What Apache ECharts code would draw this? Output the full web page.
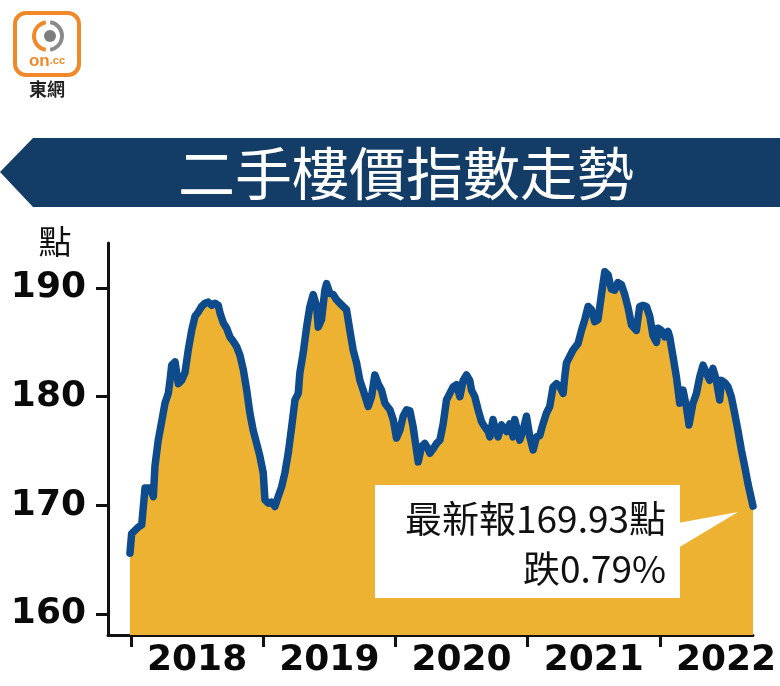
<!DOCTYPE html>
<html><head><meta charset="utf-8">
<script src="https://cdn.jsdelivr.net/npm/echarts@6/dist/echarts.min.js"></script>
<style>html,body{margin:0;padding:0;background:#fff}#c{width:780px;height:686px}</style>
</head><body><div id="c"></div>
<script>
// Decimal-year dates of each reading
const dates = [
  2017.992,2018.005,2018.055,2018.081,2018.106,2018.144,2018.169,2018.181,2018.206,2018.232,2018.257,2018.282,2018.295,2018.308,2018.333,2018.358,2018.383,2018.408,2018.433,2018.459,2018.484,2018.509,2018.534,2018.559,2018.584,2018.610,2018.635,2018.660,2018.673,2018.698,2018.723,2018.748,2018.773,2018.799,2018.824,2018.849,2018.875,2018.899,2018.924,2018.950,2018.975,
  2019.000,2019.013,2019.038,2019.063,2019.088,2019.113,2019.139,2019.164,2019.189,2019.215,2019.240,2019.265,2019.277,2019.302,2019.328,2019.353,2019.378,2019.404,2019.416,2019.441,2019.466,2019.479,2019.504,2019.529,2019.555,2019.580,2019.605,2019.630,2019.655,2019.680,2019.706,2019.731,2019.756,2019.794,2019.819,2019.844,
  2019.869,2019.895,2019.920,2019.958,2019.983,2020.008,2020.033,2020.058,2020.084,2020.109,2020.134,2020.159,2020.172,2020.197,2020.222,2020.247,2020.260,2020.285,2020.311,2020.336,2020.361,2020.386,2020.411,2020.436,2020.462,2020.487,2020.512,2020.537,2020.562,2020.575,2020.600,2020.625,2020.651,2020.676,2020.701,2020.714,2020.738,2020.751,2020.776,2020.802,
  2020.840,2020.865,2020.890,2020.902,2020.940,2020.965,2020.991,2021.016,2021.041,2021.067,2021.091,2021.116,2021.142,2021.167,2021.192,2021.218,2021.243,2021.268,2021.280,2021.293,2021.318,2021.343,2021.381,2021.407,2021.432,2021.457,2021.482,2021.507,2021.532,2021.558,2021.583,2021.608,2021.633,2021.658,2021.683,2021.709,2021.734,2021.759,
  2021.785,2021.822,2021.847,2021.872,2021.898,2021.923,2021.948,2021.974,2021.986,2022.011,2022.036,2022.061,2022.074,2022.099,2022.125,2022.150,2022.175,2022.200,2022.220,2022.250,2022.276,2022.301,2022.326,2022.351,2022.376,2022.401,2022.427,2022.452,2022.465,2022.490,2022.515,2022.540,2022.565,2022.590,2022.616,2022.641,2022.666,2022.704
];
// Index readings (點)
const indexValues = [
  165.6,167.4,168.0,168.2,171.6,171.6,170.8,173.6,176.0,177.7,179.4,180.3,181.5,182.9,183.2,181.2,181.5,182.2,184.3,186.1,187.4,187.8,188.3,188.6,188.7,188.4,188.6,188.4,187.7,186.8,186.3,185.5,185.1,184.6,183.8,182.5,180.6,178.5,176.9,175.7,174.5,
  173.0,170.5,170.2,170.3,169.9,170.8,171.7,173.0,174.8,177.2,179.7,180.3,182.2,184.0,186.4,188.3,189.4,188.3,186.4,187.1,189.8,190.4,189.5,189.4,188.9,188.6,188.3,188.0,186.1,184.3,183.1,181.5,180.6,179.1,180.0,182.0,
  181.2,180.6,179.4,178.8,177.9,176.2,176.9,178.2,178.8,178.7,177.2,175.1,174.0,175.4,175.7,175.2,174.8,175.2,175.7,176.0,177.5,179.7,180.3,180.9,181.1,180.0,181.5,182.0,181.5,180.6,180.0,178.8,177.7,177.2,176.8,176.3,177.9,177.2,176.3,177.4,
  176.8,177.5,176.3,177.9,176.0,176.9,178.2,176.3,175.1,176.3,176.4,177.5,178.5,179.1,180.9,181.2,180.9,180.3,181.8,183.1,183.7,184.3,184.9,186.1,187.1,188.3,188.0,186.9,187.1,189.4,191.5,191.2,189.9,189.8,190.5,190.3,189.4,188.2,
  186.6,186.1,188.3,188.4,188.3,187.4,185.6,185.0,186.3,186.1,185.5,186.0,185.5,183.7,181.8,179.4,180.6,179.1,177.4,179.4,180.3,181.8,182.9,182.2,181.5,182.6,181.5,179.7,181.5,181.3,180.9,180.0,178.5,176.9,175.1,173.6,172.0,169.93
];
const yearTicks = [2018, 2019, 2020, 2021, 2022];
const yearLabelPos = [2018.5, 2019.5, 2020.5, 2021.5, 2022.5];
const yTicks = [160, 170, 180, 190];
const titleText = '二手樓價指數走勢';
const unitText = '點';
const noteLine1 = '最新報169.93點';
const noteLine2 = '跌0.79%';

const chart = echarts.init(document.getElementById('c'), null, {renderer: 'canvas'});
const seriesData = dates.map((d, i) => [d, indexValues[i]]);
const numFont = {fontFamily: 'DejaVu Sans', fontWeight: 'bold', fontSize: 36, color: '#0a0a0a'};

chart.setOption({
  animation: false,
  backgroundColor: '#fff',
  grid: {left: 108, right: 27, top: 243, bottom: 51, containLabel: false},
  xAxis: {
    type: 'value', min: 2017.826, max: 2022.704,
    axisLine: {show: true, onZero: false, lineStyle: {color: '#111', width: 3}},
    axisTick: {show: true, length: 12, lineStyle: {color: '#111', width: 3}, customValues: yearTicks},
    axisLabel: Object.assign({customValues: yearLabelPos, margin: 8, formatter: v => String(Math.floor(v))}, numFont),
    splitLine: {show: false}
  },
  yAxis: {
    type: 'value', min: 158.07, max: 194.14,
    axisLine: {show: true, lineStyle: {color: '#111', width: 3}},
    axisTick: {show: true, length: 12, lineStyle: {color: '#111', width: 3}, customValues: yTicks},
    axisLabel: Object.assign({customValues: yTicks, margin: 22}, numFont),
    splitLine: {show: false}
  },
  series: [{
    type: 'line',
    data: seriesData,
    symbol: 'none',
    lineStyle: {color: '#0e4b8c', width: 7.5, join: 'round', cap: 'round'},
    areaStyle: {color: '#eeb233', opacity: 1, origin: 'start'},
    z: 2
  }]
});

const last = seriesData[seriesData.length - 1];
const tip = chart.convertToPixel({gridIndex: 0}, last);

chart.setOption({
  graphic: [
    // logo
    {type: 'rect', shape: {x: 15, y: 13, width: 64, height: 62, r: 11}, style: {fill: '#fff', stroke: '#f0892a', lineWidth: 4}, z: 10},
    {type: 'arc', shape: {cx: 48, cy: 36, r: 14, startAngle: Math.PI * 0.55, endAngle: Math.PI * 1.45}, style: {stroke: '#f0892a', lineWidth: 4, fill: 'none'}, z: 11},
    {type: 'arc', shape: {cx: 48, cy: 36, r: 14, startAngle: -Math.PI * 0.45, endAngle: Math.PI * 0.45}, style: {stroke: '#8a8a8a', lineWidth: 4, fill: 'none'}, z: 11},
    {type: 'circle', shape: {cx: 50, cy: 36, r: 6}, style: {fill: '#7d7d7d'}, z: 11},
    {type: 'text', x: 47, y: 61, style: {text: '{a|on}{b|.cc}', align: 'center', verticalAlign: 'middle',
      rich: {a: {fontSize: 17, fontWeight: 'bold', fill: '#f0892a', fontFamily: 'Liberation Sans'}, b: {fontSize: 11, fontWeight: 'bold', fill: '#f0892a', fontFamily: 'Liberation Sans'}}}, z: 11},
    {type: 'text', x: 47, y: 89, style: {text: '東網', align: 'center', verticalAlign: 'middle', fontSize: 18, fontWeight: 'bold', fill: '#222', fontFamily: 'Noto Sans CJK TC'}, z: 11},
    // banner
    {type: 'polygon', shape: {points: [[0, 172], [33, 138], [780, 138], [780, 207], [33, 207]]}, style: {fill: '#133d66'}, z: 10},
    {type: 'text', x: 406, y: 173, style: {text: titleText, align: 'center', verticalAlign: 'middle', fontSize: 57, fill: '#fff', fontFamily: 'Noto Sans CJK TC'}, z: 11},
    // unit
    {type: 'text', x: 55, y: 241, style: {text: unitText, align: 'center', verticalAlign: 'middle', fontSize: 33, fill: '#111', fontFamily: 'Noto Sans CJK TC'}, z: 11},
    // annotation callout
    {type: 'rect', shape: {x: 375, y: 485, width: 305, height: 113}, style: {fill: '#fff'}, z: 20},
    {type: 'polygon', shape: {points: [[678, 523], [tip[0] - 15, tip[1] + 6], [678, 548]]}, style: {fill: '#fff'}, z: 20},
    {type: 'text', x: 666, y: 519, style: {text: noteLine1, align: 'right', verticalAlign: 'middle', fontSize: 37, fill: '#111', fontFamily: 'Noto Sans CJK TC'}, z: 21},
    {type: 'text', x: 666, y: 569, style: {text: noteLine2, align: 'right', verticalAlign: 'middle', fontSize: 37, fill: '#111', fontFamily: 'Noto Sans CJK TC'}, z: 21}
  ]
});
</script>
</body></html>
